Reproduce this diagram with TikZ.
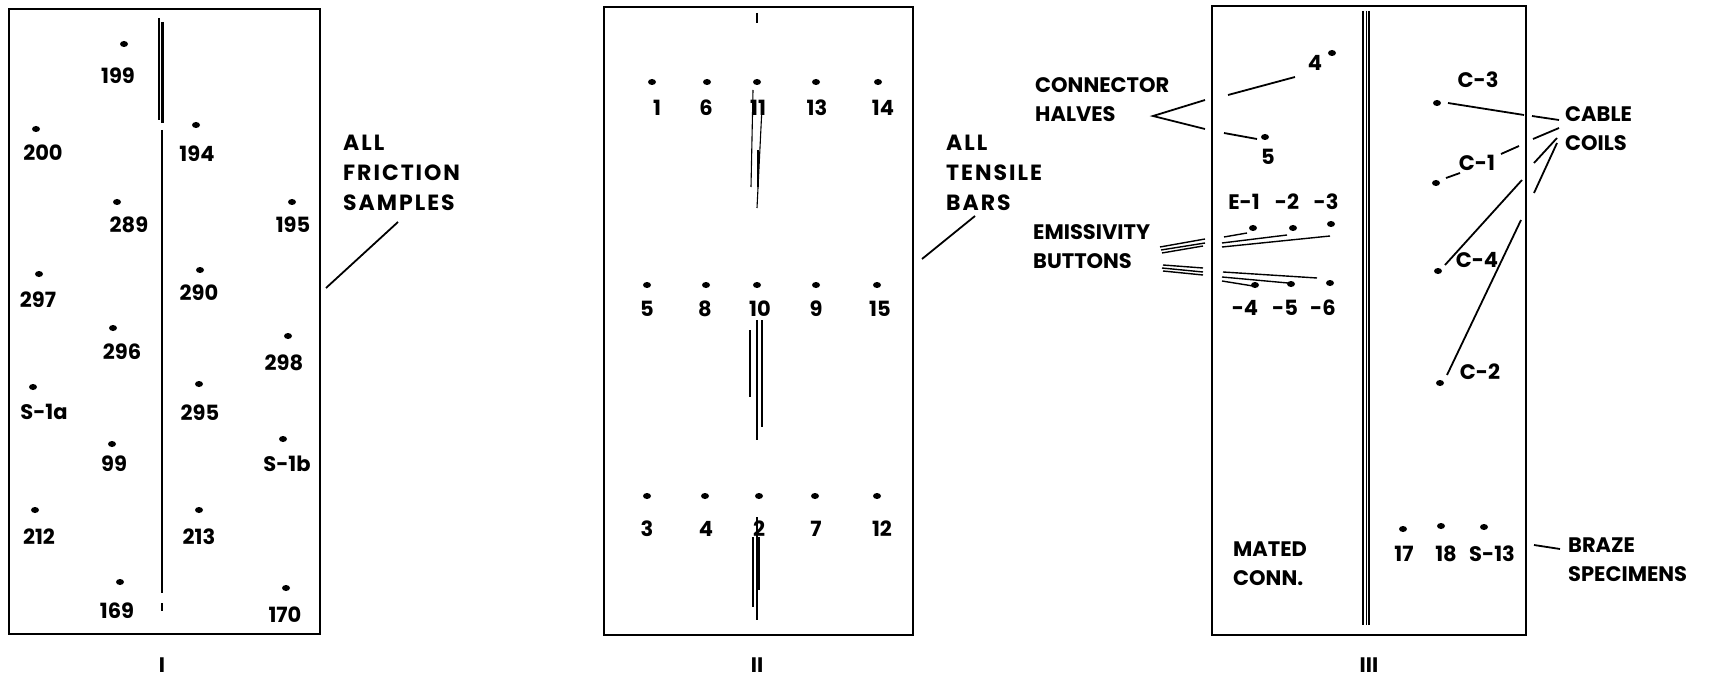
\documentclass[tikz,border=0pt]{standalone}
\usepackage{fontspec}
\usetikzlibrary{shapes.geometric}
\setmainfont{Poppins}
% a sample position: dot plus its number
\newcommand\spec[4]{\node[dot] (d#1) at (#2) {};\node[lbl] (t#1) at (#3) {#4};}
\begin{document}
\begin{tikzpicture}[x=1pt,y=-1pt,
  frame/.style={line width=2.8pt},
  dot/.style={ellipse,fill=black,inner sep=0pt,minimum width=8pt,minimum height=6pt},
  lbl/.style={font=\fontsize{21}{29}\selectfont\bfseries,inner sep=0pt},
  caption/.style={lbl,align=left,anchor=west},
  widecaption/.style={caption,font=\fontsize{22}{30}\selectfont\bfseries\addfontfeature{LetterSpace=9}},
  leader/.style={line width=1.8pt},
  scratch/.style={line width=1.1pt}]
\useasboundingbox (0,0) rectangle (1711,679);

% ---------------- tray I : friction samples ----------------
\draw[frame] (9,9) rectangle (320,634);
\draw[line width=3pt] (162,22) -- (162,123);
\draw[scratch] (159,18) -- (159,120);
\draw[scratch] (162,130) -- (162,593);
\draw[scratch] (162,603) -- (162,611);
\spec{199}{124,44}{118,76}{199}
\spec{200}{36,129}{43,153}{200}
\spec{194}{196,125}{197,154}{194}
\spec{289}{117,202}{129,225}{289}
\spec{195}{292,202}{293,225}{195}
\spec{297}{39,274}{38,300}{297}
\spec{290}{200,270}{199,293}{290}
\spec{296}{113,328}{122,352}{296}
\spec{298}{288,336}{284,363}{298}
\spec{S1a}{33,387}{44,412}{S-1a}
\spec{295}{199,384}{200,413}{295}
\spec{99}{112,444}{114,464}{99}
\spec{S1b}{283,439}{287,464}{S-1b}
\spec{212}{35,510}{39,537}{212}
\spec{213}{199,510}{199,537}{213}
\spec{169}{120,582}{117,611}{169}
\spec{170}{286,588}{285,615}{170}
\node[lbl] (rI) at (162,665) {I};
\node[widecaption] (friction) at (343,173) {ALL\\FRICTION\\SAMPLES};
\coordinate (fr1) at (326,288);
\coordinate (fr2) at (398,222);
\draw[leader] (fr1) -- (fr2);

% ---------------- tray II : tensile bars ----------------
\draw[frame] (604,7) rectangle (913,635);
\draw[line width=1.5pt] (757,13) -- (757,23);
\draw[scratch] (753,90) -- (751,187);
\draw[scratch] (762,107) -- (757,208);
\draw[line width=2.5pt] (758,150) -- (758,187);
\draw[scratch] (750,330) -- (750,397);
\draw[line width=2pt] (757,320) -- (757,440);
\draw[scratch] (762,320) -- (762,427);
\draw[scratch] (753,537) -- (753,607);
\draw[scratch] (757,517) -- (757,620);
\draw[line width=2pt] (759,537) -- (759,590);
\spec{b1}{652,82}{657,108}{1}
\spec{b6}{707,82}{706,108}{6}
\spec{b11}{757,82}{758,108}{11}
\spec{b13}{816,82}{817,108}{13}
\spec{b14}{878,82}{883,108}{14}
\spec{b5}{647,285}{647,309}{5}
\spec{b8}{706,285}{705,309}{8}
\spec{b10}{757,285}{760,309}{10}
\spec{b9}{816,285}{816,309}{9}
\spec{b15}{877,285}{880,309}{15}
\spec{b3}{647,496}{647,529}{3}
\spec{b4}{705,496}{706,529}{4}
\spec{b2}{759,496}{759,529}{2}
\spec{b7}{815,496}{816,529}{7}
\spec{b12}{877,496}{882,529}{12}
\node[lbl] (rII) at (757,665) {II};
\node[widecaption] (tensile) at (946,173) {ALL\\TENSILE\\BARS};
\coordinate (te1) at (922,259);
\coordinate (te2) at (975,216);
\draw[leader] (te1) -- (te2);

% ---------------- tray III : mixed specimens ----------------
\draw[frame] (1212,6) rectangle (1526,635);
\draw[line width=1.4pt] (1363,11) -- (1363,625);
\draw[line width=0.6pt] (1366,11) -- (1366,625);
\draw[line width=1.4pt] (1369,11) -- (1369,625);
% connector halves
\spec{c4}{1332,53}{1315,63}{4}
\spec{c5}{1265,137}{1268,157}{5}
% emissivity buttons
\node[dot] (e1) at (1253,228) {};
\node[dot] (e2) at (1293,228) {};
\node[dot] (e3) at (1331,224) {};
\node[lbl] (te1l) at (1244,202) {E-1};
\node[lbl] (te2l) at (1287,202) {-2};
\node[lbl] (te3l) at (1326,202) {-3};
\spec{e4}{1255,285}{1245,308}{-4}
\spec{e5}{1291,284}{1285,308}{-5}
\spec{e6}{1330,283}{1323,308}{-6}
% cable coils
\node[dot] (k3) at (1437,103) {};
\node[lbl] (tk3) at (1478,80) {C-3};
\node[dot] (k1) at (1436,183) {};
\node[lbl] (tk1) at (1477,163) {C-1};
\node[dot] (k4) at (1438,271) {};
\node[lbl] (tk4) at (1477,260) {C-4};
\node[dot] (k2) at (1440,383) {};
\node[lbl] (tk2) at (1480,372) {C-2};
% braze specimens
\spec{z17}{1403,529}{1404,554}{17}
\spec{z18}{1441,526}{1446,554}{18}
\spec{zS13}{1484,527}{1492,554}{S-13}
\node[caption] (mated) at (1233,564) {MATED\\CONN.};
\node[lbl] (rIII) at (1369,665) {III};

% outside captions
\node[caption] (halves) at (1035,100) {CONNECTOR\\HALVES};
\node[caption] (emiss) at (1033,247) {EMISSIVITY\\BUTTONS};
\node[caption] (cable) at (1565,129) {CABLE\\COILS};
\node[caption] (braze) at (1568,560) {BRAZE\\SPECIMENS};

% connector halves leaders
\coordinate (h0) at (1153,116);
\coordinate (h1) at (1205,100);
\coordinate (h2) at (1205,129);
\coordinate (h3) at (1228,95);
\coordinate (h4) at (1295,77);
\coordinate (h5) at (1224,133);
\coordinate (h6) at (1257,139);
\draw[leader] (h1) -- (h0) -- (h2);
\draw[leader] (h3) -- (h4);
\draw[leader] (h5) -- (h6);

% emissivity leaders
\draw[leader,line width=1.4pt] (1160,247) -- (1205,239);
\draw[leader,line width=1.4pt] (1161,250) -- (1205,243);
\draw[leader,line width=1.4pt] (1162,253) -- (1203,246);
\draw[leader,line width=1.4pt] (1163,265) -- (1203,268);
\draw[leader,line width=1.4pt] (1162,268) -- (1203,272);
\draw[leader,line width=1.4pt] (1163,271) -- (1203,275);
\draw[leader,line width=1.4pt] (1224,237) -- (1247,233);
\draw[leader,line width=1.4pt] (1222,243) -- (1287,235);
\draw[leader,line width=1.4pt] (1222,247) -- (1330,236);
\draw[leader,line width=1.4pt] (1223,272) -- (1317,278);
\draw[leader,line width=1.4pt] (1222,277) -- (1288,283);
\draw[leader,line width=1.4pt] (1222,281) -- (1253,286);

% cable coil leaders
\draw[leader] (1448,103) -- (1524,115);
\draw[leader] (1532,116) -- (1559,120);
\draw[leader] (1446,178) -- (1460,173);
\draw[leader] (1501,154) -- (1519,146);
\draw[leader] (1533,139) -- (1559,128);
\draw[leader] (1445,265) -- (1522,180);
\draw[leader] (1534,163) -- (1557,138);
\draw[leader] (1447,375) -- (1521,220);
\draw[leader] (1534,193) -- (1557,143);

% braze leader
\coordinate (bz1) at (1534,545);
\coordinate (bz2) at (1560,549);
\draw[leader] (bz1) -- (bz2);
\end{tikzpicture}
\end{document}
